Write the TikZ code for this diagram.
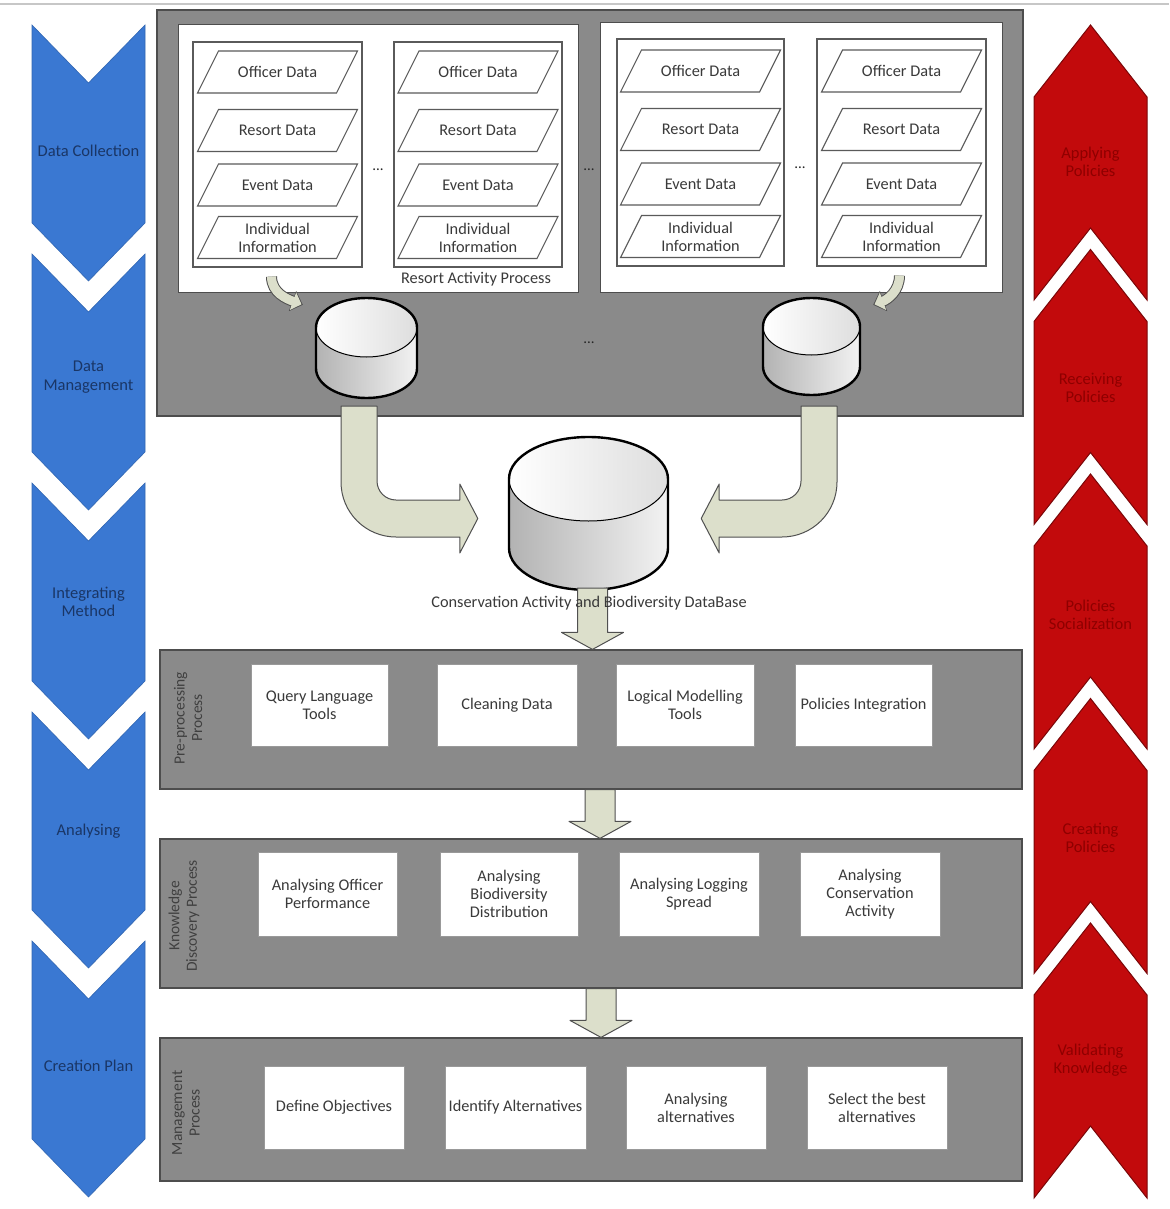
\documentclass[tikz,border=0pt]{standalone}
\usepackage{fontspec}
\setmainfont{Carlito}
\usetikzlibrary{calc,arrows.meta}

\definecolor{chevblue}{HTML}{3A78D2}
\definecolor{chevbluetext}{HTML}{1A3666}
\definecolor{chevred}{HTML}{C20A0C}
\definecolor{chevredline}{HTML}{7A0608}
\definecolor{chevredtext}{HTML}{8E0000}
\definecolor{panelgray}{HTML}{8A8A8A}
\definecolor{panelline}{HTML}{4D4D4D}
\definecolor{boxline}{HTML}{5A5A5A}
\definecolor{flowfill}{HTML}{DCDFCB}
\definecolor{flowline}{HTML}{505050}
\definecolor{inkgray}{HTML}{3A3A3A}

% slanted data card with its caption
\newcommand{\datacard}[4]{%
  \draw[card] (#2-80,#3+21) -- (#2-59,#3-21) -- (#2+80,#3-21) -- (#2+59,#3+21) -- cycle;
  \node (#1) at (#2,#3) {#4};}

% database cylinder: name, centre x, top y, x radius, y radius, height
\newcommand{\drawdb}[6]{%
  \node[minimum width=2*#4, minimum height=#6] (#1) at (#2,#3+#6/2) {};
  \path[left color=black!30, right color=black!5]
    (#2-#4,#3+#5) -- (#2-#4,#3+#6-#5)
    arc[start angle=180, end angle=360, x radius=#4pt, y radius=#5pt]
    -- (#2+#4,#3+#5)
    arc[start angle=0, end angle=180, x radius=#4pt, y radius=#5pt] -- cycle;
  \path[left color=white, right color=black!13] (#2,#3+#5) ellipse[x radius=#4pt, y radius=#5pt];
  \draw[line width=1pt] (#2-#4,#3+#5) arc[start angle=180, end angle=360, x radius=#4pt, y radius=#5pt];
  \draw[line width=2.4pt]
    (#2-#4,#3+#5) -- (#2-#4,#3+#6-#5)
    arc[start angle=180, end angle=360, x radius=#4pt, y radius=#5pt]
    -- (#2+#4,#3+#5)
    arc[start angle=0, end angle=180, x radius=#4pt, y radius=#5pt] -- cycle;}

% straight block arrow pointing down, from a start point to a tip
\newcommand{\blockdown}[2]{%
  \draw[flow] let \p1=(#1), \p2=(#2) in
    (\x2-15pt,\y1) -- (\x2-15pt,\y2+17pt) -- (\x2-31pt,\y2+17pt) -- (\x2,\y2)
    -- (\x2+31pt,\y2+17pt) -- (\x2+15pt,\y2+17pt) -- (\x2+15pt,\y1) -- cycle;}

\begin{document}
\begin{tikzpicture}[x=1pt,y=-1pt,
  every node/.style={font=\fontsize{16.3}{18}\selectfont, text=inkgray, inner sep=0pt, align=center},
  panel/.style={draw=panelline, fill=panelgray, line width=1.2pt},
  sheet/.style={draw=panelline, fill=white, line width=1pt},
  group/.style={draw=boxline, fill=white, line width=1.1pt},
  card/.style={draw=boxline, fill=white, line width=1.1pt},
  procbox/.style={draw=black!40, fill=white, line width=0.6pt},
  flow/.style={fill=flowfill, draw=flowline, line width=1pt, line join=round},
  bluelabel/.style={text=chevbluetext, font=\fontsize{16.5}{18.5}\selectfont},
  redlabel/.style={text=chevredtext, font=\fontsize{16.5}{18.5}\selectfont},
  sidelabel/.style={rotate=90, text=black!75, font=\fontsize{15.5}{17.5}\selectfont},
  dots/.style={font=\fontsize{15}{15}\selectfont, text=black!85}]

\useasboundingbox (0,0) rectangle (1169,1209);
\fill[white] (0,0) rectangle (1169,1209);
\draw[black!22, line width=2pt] (0,4) -- (1169,4);

% ---------- left phase chevrons ----------
\foreach \i in {0,...,4} {
  \pgfmathsetmacro{\chevtop}{25+229*\i}
  \filldraw[fill=chevblue, draw=chevblue!85!black, line width=0.6pt]
    (32,\chevtop) -- (88.5,\chevtop+58) -- (145,\chevtop) -- (145,\chevtop+198)
    -- (88.5,\chevtop+256) -- (32,\chevtop+198) -- cycle;
}
\node[bluelabel] (phase1) at (88.5,151) {Data Collection};
\node[bluelabel] (phase2) at (88.5,377) {Data\\Management};
\node[bluelabel] (phase3) at (88.5,602) {Integrating\\Method};
\node[bluelabel] (phase4) at (88.5,831) {Analysing};
\node[bluelabel] (phase5) at (88.5,1066) {Creation Plan};

% ---------- right policy chevrons ----------
\foreach \i in {0,...,4} {
  \pgfmathsetmacro{\chevtop}{25+224.5*\i}
  \filldraw[fill=chevred, draw=chevredline, line width=1pt]
    (1090.5,\chevtop) -- (1147,\chevtop+72) -- (1147,\chevtop+275)
    -- (1090.5,\chevtop+203) -- (1034,\chevtop+275) -- (1034,\chevtop+72) -- cycle;
}
\node[redlabel] (stage1) at (1090.5,162) {Applying\\Policies};
\node[redlabel] (stage2) at (1090.5,388) {Receiving\\Policies};
\node[redlabel] (stage3) at (1090.5,615) {Policies\\Socialization};
\node[redlabel] (stage4) at (1090.5,838) {Creating\\Policies};
\node[redlabel] (stage5) at (1090.5,1060) {Validating\\Knowledge};

% ---------- data collection panel ----------
\node[panel, minimum width=866, minimum height=406] (collect) at (590,213) {};
\node[sheet, minimum width=400, minimum height=267] (sheetL) at (378,158.5) {};
\node[sheet, minimum width=402, minimum height=269] (sheetR) at (801,157.5) {};
\node[group, minimum width=169, minimum height=225] (boxA) at (277.5,154.5) {};
\node[group, minimum width=168, minimum height=225] (boxB) at (478,154.5) {};
\node[group, minimum width=167, minimum height=227] (boxC) at (700.5,152.5) {};
\node[group, minimum width=169, minimum height=227] (boxD) at (901.5,152.5) {};

\foreach \grp/\gx/\gy in {a/277.5/0, b/478/0, c/700.5/-1, d/901.5/-1} {
  \datacard{\grp-off}{\gx}{72+\gy}{Officer Data}
  \datacard{\grp-res}{\gx}{130.5+\gy}{Resort Data}
  \datacard{\grp-evt}{\gx}{185+\gy}{Event Data}
  \datacard{\grp-ind}{\gx}{237.5+\gy}{Individual\\Information}
}
\node (rap) at (476,279) {Resort Activity Process};
\node[dots] (dots1) at (378,170) {...};
\node[dots] (dots2) at (589,170) {...};
\node[dots] (dots3) at (800,168) {...};
\node[dots] (dots4) at (589,343) {...};

% resort databases
\drawdb{dbL}{366.5}{298}{50.5}{29.5}{100}
\drawdb{dbR}{811.5}{298}{48.5}{28.5}{97}

% small feeding arrows
\coordinate (sLs) at ($(boxA.south)+(-6,9)$);
\coordinate (sLt) at ($(dbL.north west)+(-13,7)$);
\coordinate (sRs) at ($(boxD.south)+(-2,9)$);
\coordinate (sRt) at ($(dbR.north east)+(13,7)$);
\draw[line width=11pt, draw=flowline, -{Triangle[width=21pt,length=11pt]}] (sLs) to[out=-90,in=160] (sLt);
\draw[line width=9pt, draw=flowfill, -{Triangle[width=18pt,length=9pt]}, shorten >=1.4pt] (sLs) to[out=-90,in=160] (sLt);
\draw[line width=11pt, draw=flowline, -{Triangle[width=21pt,length=11pt]}] (sRs) to[out=-90,in=20] (sRt);
\draw[line width=9pt, draw=flowfill, -{Triangle[width=18pt,length=9pt]}, shorten >=1.4pt] (sRs) to[out=-90,in=20] (sRt);

% ---------- central database ----------
\drawdb{dbC}{588.5}{437}{79.5}{42}{153}

% bent arrows into the central database
\coordinate (aLs) at ($(dbL.south)+(-7.5,8)$);
\coordinate (aLt) at ($(dbC.west)+(-31,5)$);
\coordinate (aRs) at ($(dbR.south)+(7.5,11)$);
\coordinate (aRt) at ($(dbC.east)+(33,5)$);
\draw[flow] let \p1=(aLs), \p2=(aLt) in
  (\x1-18pt,\y1) -- (\x1-18pt,\y2+36.5pt)
  .. controls (\x1-18pt,\y2+6.1pt) and (\x1+6.6pt,\y2-18.5pt) .. (\x1+37pt,\y2-18.5pt)
  -- (\x2-18pt,\y2-18.5pt) -- (\x2-18pt,\y2-34.5pt) -- (\x2,\y2)
  -- (\x2-18pt,\y2+34.5pt) -- (\x2-18pt,\y2+18.5pt) -- (\x1+37pt,\y2+18.5pt)
  .. controls (\x1+26.5pt,\y2+18.5pt) and (\x1+18pt,\y2+27pt) .. (\x1+18pt,\y2+37.5pt)
  -- (\x1+18pt,\y1) -- cycle;
\draw[flow] let \p1=(aRs), \p2=(aRt) in
  (\x1+18pt,\y1) -- (\x1+18pt,\y2+36.5pt)
  .. controls (\x1+18pt,\y2+6.1pt) and (\x1-6.6pt,\y2-18.5pt) .. (\x1-37pt,\y2-18.5pt)
  -- (\x2+18pt,\y2-18.5pt) -- (\x2+18pt,\y2-34.5pt) -- (\x2,\y2)
  -- (\x2+18pt,\y2+34.5pt) -- (\x2+18pt,\y2+18.5pt) -- (\x1-37pt,\y2+18.5pt)
  .. controls (\x1-26.5pt,\y2+18.5pt) and (\x1-18pt,\y2+27pt) .. (\x1-18pt,\y2+37.5pt)
  -- (\x1-18pt,\y1) -- cycle;

% ---------- process panels ----------
\node[panel, minimum width=862, minimum height=139] (pre) at (591,719.5) {};
\node[panel, minimum width=862, minimum height=149] (kdd) at (591,913.5) {};
\node[panel, minimum width=862, minimum height=143] (mgmt) at (591,1109.5) {};

\node[sidelabel] (preLbl) at (188,718) {Pre-processing\\Process};
\node[sidelabel] (kddLbl) at (184,916) {Knowledge\\Discovery Process};
\node[sidelabel] (mgmtLbl) at (186,1113) {Management\\Process};

\node[procbox, minimum width=137, minimum height=82] (p1) at (319.5,705) {Query Language\\Tools};
\node[procbox, minimum width=140, minimum height=82] (p2) at (507,705) {Cleaning Data};
\node[procbox, minimum width=138, minimum height=82] (p3) at (685,705) {Logical Modelling\\Tools};
\node[procbox, minimum width=137, minimum height=82] (p4) at (863.5,705) {Policies Integration};

\node[procbox, minimum width=139, minimum height=84] (k1) at (327.5,894) {Analysing Officer\\Performance};
\node[procbox, minimum width=138, minimum height=84] (k2) at (509,894) {Analysing\\Biodiversity\\Distribution};
\node[procbox, minimum width=140, minimum height=84] (k3) at (689,894) {Analysing Logging\\Spread};
\node[procbox, minimum width=140, minimum height=84] (k4) at (870,894) {Analysing\\Conservation\\Activity};

\node[procbox, minimum width=140, minimum height=83] (m1) at (334,1107.5) {Define Objectives};
\node[procbox, minimum width=141, minimum height=83] (m2) at (515.5,1107.5) {Identify Alternatives};
\node[procbox, minimum width=140, minimum height=83] (m3) at (696,1107.5) {Analysing\\alternatives};
\node[procbox, minimum width=140, minimum height=83] (m4) at (877,1107.5) {Select the best\\alternatives};

% downward flow between stages
\coordinate (d1s) at ($(dbC.south)+(4,-2)$);
\coordinate (d1t) at (d1s |- pre.north);
\coordinate (d2s) at ($(pre.south)+(9,0)$);
\coordinate (d2t) at (d2s |- kdd.north);
\coordinate (d3s) at ($(kdd.south)+(10,0)$);
\coordinate (d3t) at (d3s |- mgmt.north);
\blockdown{d1s}{d1t}
\blockdown{d2s}{d2t}
\blockdown{d3s}{d3t}

% caption of the central database, lying across the outgoing arrow
\node (dbcap) at (589,603) {Conservation Activity and Biodiversity DataBase};

\end{tikzpicture}
\end{document}
